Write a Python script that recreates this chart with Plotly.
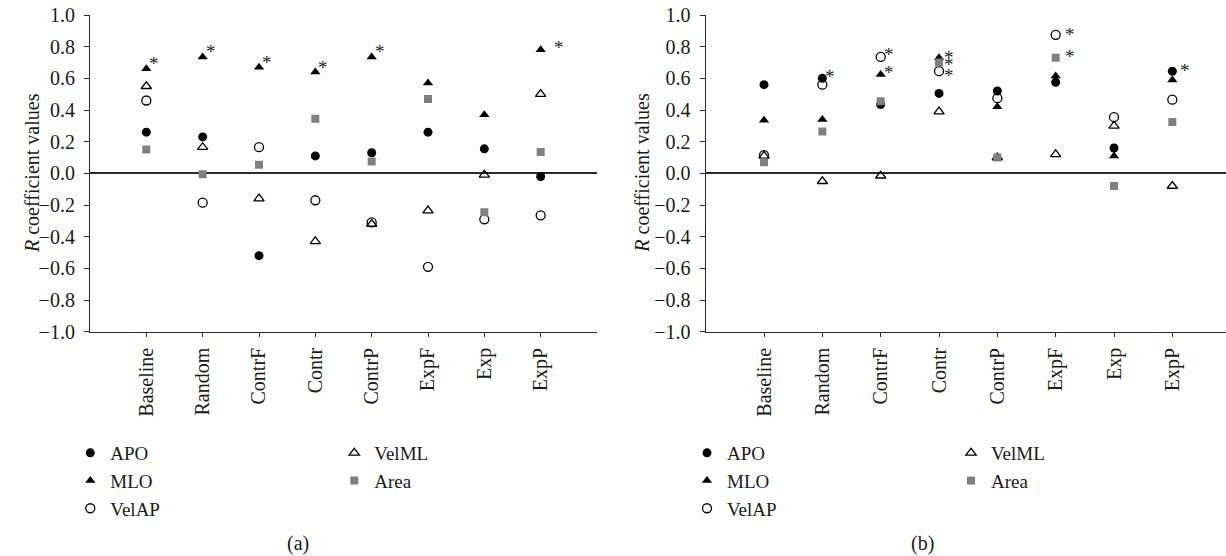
import plotly.graph_objects as go

# ---------------- data ----------------
categories = ["Baseline", "Random", "ContrF", "Contr", "ContrP", "ExpF", "Exp", "ExpP"]
series_names = ["APO", "MLO", "VelAP", "VelML", "Area"]

# panel (a)
a_APO = [0.26, 0.23, -0.52, 0.11, 0.13, 0.26, 0.155, -0.02]
a_MLO = [0.66, 0.735, 0.67, 0.64, 0.735, 0.57, 0.37, 0.78]
a_VelAP = [0.46, -0.185, 0.165, -0.17, -0.31, -0.59, -0.29, -0.265]
a_VelML = [0.55, 0.165, -0.16, -0.43, -0.32, -0.235, -0.01, 0.50]
a_Area = [0.15, -0.005, 0.055, 0.345, 0.075, 0.47, -0.245, 0.135]

# panel (b)
b_APO = [0.56, 0.60, 0.435, 0.505, 0.52, 0.575, 0.16, 0.645]
b_MLO = [0.335, 0.34, 0.625, 0.73, 0.42, 0.615, 0.11, 0.59]
b_VelAP = [0.115, 0.56, 0.735, 0.645, 0.475, 0.875, 0.355, 0.465]
b_VelML = [0.11, -0.05, -0.015, 0.39, 0.10, 0.12, 0.30, -0.08]
b_Area = [0.07, 0.265, 0.455, 0.70, 0.10, 0.73, -0.08, 0.325]

# significant correlations (asterisks)
sig_a = {"MLO": ["Baseline", "Random", "ContrF", "Contr", "ContrP", "ExpP"]}
sig_b = {
    "APO": ["Random", "ExpP"],
    "MLO": ["ContrF", "Contr"],
    "VelAP": ["ContrF", "Contr", "ExpF"],
    "Area": ["Contr", "ExpF"],
}

y_ticks = [-1.0, -0.8, -0.6, -0.4, -0.2, 0.0, 0.2, 0.4, 0.6, 0.8, 1.0]
y_title = "<i>R</i> coefficient values"
panel_labels = ["(a)", "(b)"]

# ---------------- style ----------------
FONT = "Liberation Serif, Times New Roman, serif"
INK = "#2b2b2b"
TXT = "#1a1a1a"
styles = {
    "APO": dict(symbol="circle", size=9, color="black"),
    "MLO": dict(symbol="triangle-up", size=9, color="black"),
    "VelAP": dict(symbol="circle-open", size=9, color="black", line=dict(width=1.3, color="black")),
    "VelML": dict(symbol="triangle-up-open", size=9, color="black", line=dict(width=1.3, color="black")),
    "Area": dict(symbol="square", size=8, color="#808080"),
}
legend_of = {"APO": 0, "MLO": 0, "VelAP": 0, "VelML": 1, "Area": 1}
# per-asterisk offset tweaks (pixels)
ast_shift = {
    ("a", "ExpP", "MLO"): (18, 2),
    ("b", "ExpF", "VelAP"): (14, 0),
    ("b", "ExpF", "Area"): (14, 1),
    ("b", "ExpP", "APO"): (13, 1),
    ("b", "Contr", "MLO"): (10, 0),
    ("b", "Contr", "Area"): (10, -2),
    ("b", "Contr", "VelAP"): (10, -4),
}

W, H = 1226, 556
fig = go.Figure()

panels = [
    ("a", "x", "y", {"APO": a_APO, "MLO": a_MLO, "VelAP": a_VelAP, "VelML": a_VelML, "Area": a_Area}, sig_a, ["legend", "legend2"], 5),
    ("b", "x2", "y2", {"APO": b_APO, "MLO": b_MLO, "VelAP": b_VelAP, "VelML": b_VelML, "Area": b_Area}, sig_b, ["legend3", "legend4"], 2),
]

annotations = []
for pid, xr, yr, data, sig, legs, base_dy in panels:
    for name in series_names:
        fig.add_trace(go.Scatter(
            x=categories, y=data[name], mode="markers", name=name,
            marker=styles[name], xaxis=xr, yaxis=yr,
            legend=legs[legend_of[name]], showlegend=True, hoverinfo="x+y+name",
        ))
    for name, cats in sig.items():
        for c in cats:
            v = data[name][categories.index(c)]
            dx, dy = ast_shift.get((pid, c, name), (8, base_dy))
            annotations.append(dict(
                x=c, y=v, xref=xr, yref=yr, text="*", showarrow=False,
                xanchor="center", yanchor="middle",
                xshift=dx, yshift=dy, font=dict(family=FONT, size=19, color="#222222"),
            ))

x_dom_a = [90 / W, 597 / W]
x_dom_b = [705.7 / W, 1.0]
y_dom = [1 - 331.7 / H, 1 - 15 / H]

ticktext = [f"{v:.1f}".replace("-", "\u2212") for v in y_ticks]

def xaxis_cfg(dom, anchor, rng):
    return dict(domain=dom, anchor=anchor, range=rng, type="category",
                tickvals=categories, ticktext=categories, tickangle=-90,
                showline=True, linecolor=INK, linewidth=1.2, ticks="outside", ticklen=4,
                tickcolor=INK, showgrid=False, zeroline=False, automargin=False,
                ticklabelstandoff=3,
                tickfont=dict(family=FONT, size=20, color=TXT))

def yaxis_cfg(anchor):
    return dict(domain=y_dom, anchor=anchor, range=[-1, 1], tickvals=y_ticks, ticktext=ticktext,
                showline=True, linecolor=INK, linewidth=1.2, ticks="outside", ticklen=5,
                tickcolor=INK, showgrid=False, zeroline=True, zerolinecolor=INK, zerolinewidth=1.5,
                automargin=False, ticklabelstandoff=5,
                tickfont=dict(family=FONT, size=20, color=TXT))

for lbl, xc in zip(panel_labels, [298, 922.7]):
    annotations.append(dict(x=xc / W, y=1 - 543 / H, xref="paper", yref="paper", text=lbl,
                            xanchor="center", yanchor="middle",
                            showarrow=False, font=dict(family=FONT, size=20, color=TXT)))
for xc in [32, 641.7]:
    annotations.append(dict(x=xc / W, y=1 - 173 / H, xref="paper", yref="paper", text=y_title,
                            xanchor="center", yanchor="middle",
                            textangle=-90, showarrow=False,
                            font=dict(family=FONT, size=20, color=TXT)))

def legend_cfg(xpx):
    return dict(x=(xpx - 23) / W, y=1 - 434 / H, xanchor="left", yanchor="top",
                bgcolor="rgba(0,0,0,0)", font=dict(family=FONT, size=19, color=TXT),
                traceorder="normal", itemclick=False, itemdoubleclick=False)

fig.update_layout(
    width=W, height=H, margin=dict(l=0, r=0, t=0, b=0, autoexpand=False),
    paper_bgcolor="white", plot_bgcolor="white",
    font=dict(family=FONT, size=20, color=TXT),
    xaxis=xaxis_cfg(x_dom_a, "y", [-1, 8]),
    yaxis=yaxis_cfg("x"),
    xaxis2=xaxis_cfg(x_dom_b, "y2", [-1, 7.92]),
    yaxis2=yaxis_cfg("x2"),
    legend=legend_cfg(93.3),
    legend2=legend_cfg(357.3),
    legend3=legend_cfg(710),
    legend4=legend_cfg(974),
    annotations=annotations,
)

# remove the browser's default 8px body margin so the figure sits at the page origin
fig.write_html("out.html", config={"displayModeBar": False},
               post_script="document.body.style.margin='0';document.body.style.overflow='hidden';")
